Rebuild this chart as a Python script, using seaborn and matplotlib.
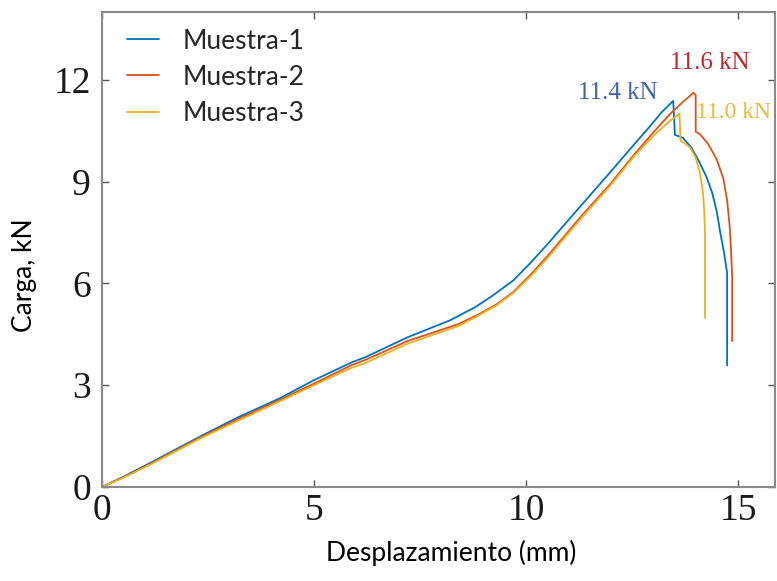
import matplotlib
matplotlib.use("Agg")
import matplotlib.pyplot as plt
import seaborn as sns
import pandas as pd

# Load–displacement curves for the three specimens
disp_1 = [0, 0.5, 1.2, 2.3, 3.2, 4.2, 5.0, 5.9, 6.2, 7.2, 8.2, 8.8, 9.2, 9.7, 10.1, 10.5, 11.3,
          12.0, 12.55, 12.9, 13.2, 13.47, 13.51, 13.7, 13.9, 14.06, 14.25, 14.39, 14.5,
          14.58, 14.67, 14.74, 14.74]
load_1 = [0, 0.3, 0.75, 1.48, 2.05, 2.62, 3.15, 3.68, 3.82, 4.41, 4.91, 5.3, 5.63, 6.09, 6.6, 7.15, 8.3,
          9.3, 10.1, 10.6, 11.05, 11.38, 10.38, 10.29, 10.0, 9.64, 9.15, 8.67, 8.1,
          7.49, 6.9, 6.31, 3.58]

disp_2 = [0, 0.5, 1.2, 2.3, 3.2, 4.2, 5.0, 5.9, 6.2, 7.2, 8.4, 8.9, 9.3, 9.7, 10.1, 10.5, 11.3,
          12.0, 12.55, 13.0, 13.4, 13.7, 13.95, 14.0, 14.0, 14.1, 14.3, 14.5, 14.65,
          14.74, 14.8, 14.83, 14.86, 14.86]
load_2 = [0, 0.28, 0.72, 1.45, 2.0, 2.57, 3.05, 3.6, 3.74, 4.3, 4.8, 5.1, 5.38, 5.75, 6.25, 6.8, 7.98,
          8.95, 9.8, 10.45, 11.0, 11.35, 11.62, 11.55, 10.47, 10.4, 10.1, 9.64, 9.1,
          8.46, 7.7, 7.07, 6.2, 4.3]

disp_3 = [0, 0.5, 1.2, 2.3, 3.2, 4.2, 5.0, 5.9, 6.2, 7.2, 8.4, 8.9, 9.3, 9.7, 10.1, 10.5, 11.3,
          12.0, 12.55, 13.0, 13.4, 13.62, 13.64, 13.72, 13.87, 14.0, 14.1, 14.17, 14.2,
          14.22, 14.22]
load_3 = [0, 0.27, 0.7, 1.42, 1.95, 2.53, 3.0, 3.52, 3.65, 4.22, 4.74, 5.07, 5.35, 5.72, 6.2, 6.74, 7.92,
          8.9, 9.75, 10.35, 10.8, 11.0, 10.2, 10.15, 10.0, 9.7, 9.26, 8.7, 8.17,
          7.5, 4.98]

series_names = ["Muestra-1", "Muestra-2", "Muestra-3"]
peak_labels = ["11.4 kN", "11.6 kN", "11.0 kN"]
line_colors = ["#0072BD", "#D95319", "#EDB120"]
label_colors = ["#3F63A8", "#C0262D", "#E6BE3A"]

x_ticks = [0, 5, 10, 15]
y_ticks = [0, 3, 6, 9, 12]

frames = []
for name, xs, ys in zip(series_names, [disp_1, disp_2, disp_3], [load_1, load_2, load_3]):
    frames.append(pd.DataFrame({"disp": xs, "load": ys, "muestra": name}))
df = pd.concat(frames, ignore_index=True)

sns.set_style("white")
fig = plt.figure(figsize=(7.77, 5.81), dpi=100)
ax = fig.add_axes([102 / 777, 1 - 487 / 581, (775 - 102) / 777, (487 - 12) / 581])

for name, color in zip(series_names, line_colors):
    sub = df[df["muestra"] == name]
    sns.lineplot(data=sub, x="disp", y="load", sort=False, estimator=None,
                 color=color, linewidth=1.3, label=name, ax=ax)

ax.set_xlim(0, 15.87)
ax.set_ylim(0, 14)
ax.set_xticks(x_ticks)
ax.set_yticks(y_ticks)

serif = "Liberation Serif"
for lab in ax.get_xticklabels() + ax.get_yticklabels():
    lab.set_fontfamily(serif)
    lab.set_fontsize(27)
    lab.set_color("#1a1a1a")
ax.tick_params(axis="both", direction="in", length=5, width=1, color="#555555",
               top=True, right=True, bottom=True, left=True)
ax.tick_params(axis="x", pad=5)
ax.tick_params(axis="y", pad=8)

for sp in ax.spines.values():
    sp.set_visible(True)
    sp.set_color("#8a8a8a")
    sp.set_linewidth(1.5)

ax.set_xlabel("Desplazamiento (mm)", fontfamily="Lato", fontsize=19, color="black")
ax.set_ylabel("Carga, kN", fontfamily="Lato", fontsize=19, color="black")
ax.xaxis.set_label_coords(0.519, -0.112)
ax.yaxis.set_label_coords(-0.097, 0.446)

# Peak load annotations
peak_pos = [(12.17, 11.62, "center"), (14.32, 12.5, "center"), (14.0, 11.03, "left")]
peak_sizes = [18, 18, 17]
for (px, py, ha), txt, col, fs in zip(peak_pos, peak_labels, label_colors, peak_sizes):
    ax.text(px, py, txt, color=col, fontfamily=serif, fontsize=fs,
            ha=ha, va="center", clip_on=False)

leg = ax.legend(loc="upper left", bbox_to_anchor=(0.037, 0.965), frameon=False,
                borderpad=0, borderaxespad=0, handlelength=1.2, handletextpad=0.9,
                labelspacing=0.42, prop={"family": "Lato", "size": 19})

fig.savefig("out.png", dpi=100)
